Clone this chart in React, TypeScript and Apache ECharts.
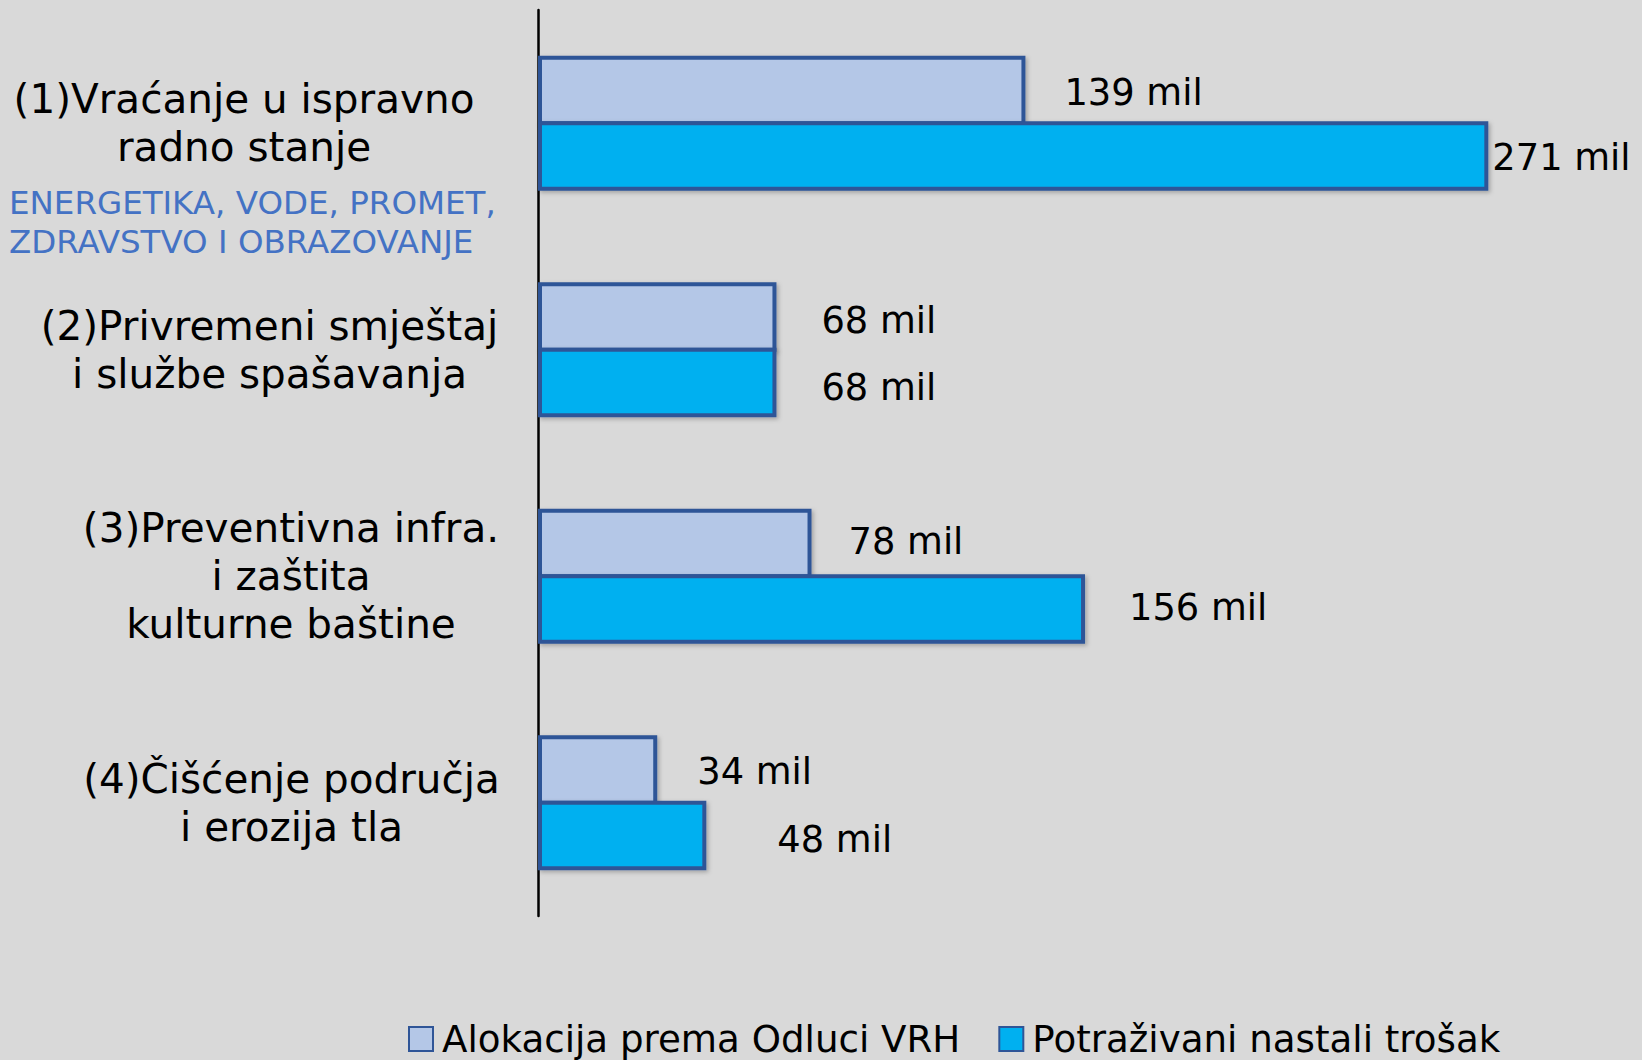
import React, { useEffect, useRef } from "react";
import * as echarts from "echarts";

const categories = [
  "(1)Vraćanje u ispravno\nradno stanje",
  "(2)Privremeni smještaj\ni službe spašavanja",
  "(3)Preventivna infra.\ni zaštita\nkulturne baštine",
  "(4)Čišćenje područja\ni erozija tla",
];
const allocation = [139, 68, 78, 34];
const claimed = [271, 68, 156, 48];
const seriesNames = ["Alokacija prema Odluci VRH", "Potraživani nastali trošak"];
const subtitle = "ENERGETIKA, VODE, PROMET,\nZDRAVSTVO I OBRAZOVANJE";
const valueSuffix = " mil";

// styling only: per-label offsets and per-category label block widths
const allocationLabelOffsets = [[39, 2], [45, 4], [37, -2], [40, 2]];
const claimedLabelOffsets = [[4, 1], [45, 5], [44, -2], [71, 4]];
const categoryBlockWidths = [512, 461, 418, 417];

const FONT = "DejaVu Sans, Verdana, sans-serif";
const BORDER = "#2F5597";

export default function App() {
  const ref = useRef<HTMLDivElement>(null);
  useEffect(() => {
    if (!ref.current) return;
    const chart = echarts.init(ref.current, null, { renderer: "svg" });
    const barStyle = (color: string) => ({
      color,
      borderColor: BORDER,
      borderWidth: 4,
      shadowColor: "rgba(0,0,0,0.25)",
      shadowBlur: 4,
      shadowOffsetX: 2,
      shadowOffsetY: 2,
    });
    const mkData = (vals: number[], offs: number[][]) =>
      vals.map((v, i) => ({
        value: v,
        label: { offset: offs[i] },
      }));
    const rich: Record<string, any> = {};
    categoryBlockWidths.forEach((w, i) => {
      rich["r" + i] = {
        width: w,
        align: "center",
        fontFamily: FONT,
        fontSize: 40.5,
        lineHeight: 48,
        color: "#000",
      };
    });
    const valueLabel = {
      show: true,
      position: "right",
      distance: 0,
      formatter: (p: any) => p.value + valueSuffix,
      fontFamily: FONT,
      fontSize: 36.8,
      color: "#000",
    };
    chart.setOption({
      animation: false,
      backgroundColor: "#D9D9D9",
      textStyle: { fontFamily: FONT },
      grid: {
        left: 538,
        top: 10,
        bottom: 144,
        width: 1052,
        containLabel: false,
        outerBoundsMode: "none",
      },
      xAxis: {
        type: "value",
        min: 0,
        max: 300,
        show: false,
      },
      yAxis: {
        type: "category",
        inverse: true,
        data: categories,
        axisLine: { show: true, lineStyle: { color: "#000", width: 2.5 } },
        axisTick: { show: false },
        axisLabel: {
          margin: 38,
          color: "#000",
          fontFamily: FONT,
          fontSize: 40.5,
          lineHeight: 48,
          formatter: (value: string, index: number) =>
            value
              .split("\n")
              .map((l) => `{r${index}|${l}}`)
              .join("\n"),
          rich,
        },
      },
      legend: {
        data: seriesNames,
        left: 403,
        top: 1015,
        itemWidth: 24,
        itemHeight: 24,
        itemGap: 38,
        icon: "rect",
        textStyle: {
          fontFamily: FONT,
          fontSize: 37.2,
          color: "#000",
          lineHeight: 38,
          padding: [0, 0, 0, 4],
        },
      },
      series: [
        {
          name: seriesNames[0],
          type: "bar",
          data: mkData(allocation, allocationLabelOffsets),
          barWidth: 69.5,
          barGap: "-5.75%",
          itemStyle: barStyle("#B4C7E7"),
          label: valueLabel,
        },
        {
          name: seriesNames[1],
          type: "bar",
          data: mkData(claimed, claimedLabelOffsets),
          barWidth: 69.5,
          barGap: "-5.75%",
          itemStyle: barStyle("#00B0F0"),
          label: valueLabel,
        },
      ],
      graphic: [
        {
          type: "text",
          left: 9,
          top: 183,
          style: {
            text: subtitle,
            font: `32.5px ${FONT}`,
            fill: "#4472C4",
            lineHeight: 39,
          },
        },
      ],
    });
    return () => chart.dispose();
  }, []);
  return (
    <div
      ref={ref}
      style={{ position: "fixed", left: 0, top: 0, width: 1642, height: 1060 }}
    />
  );
}
